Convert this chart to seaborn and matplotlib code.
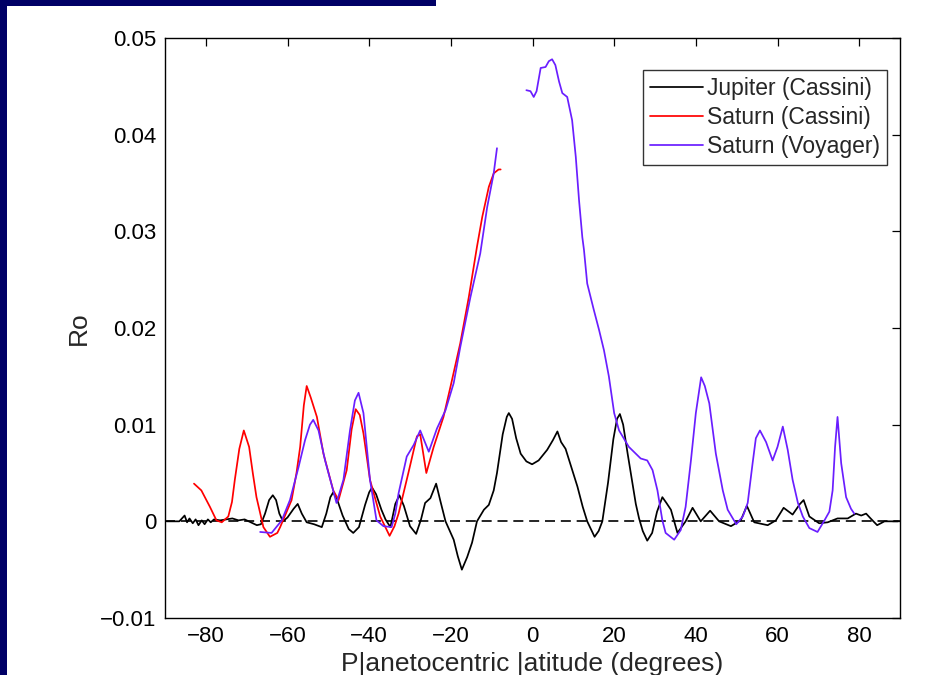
import numpy as np
import pandas as pd
import matplotlib
matplotlib.use("Agg")
import matplotlib.pyplot as plt
from matplotlib.patches import Rectangle
import seaborn as sns

# ---------------- data ----------------
jup_lat = [-89.6, -86.5, -85.2, -84.6, -84.0, -83.2, -82.5, -81.8, -81.0, -80.3, -79.5, -78.8,
           -78.0, -76.5, -75.0, -73.5, -72.0, -70.5, -69.0, -67.5, -66.5, -65.5, -64.5, -63.6,
           -62.8, -62.0, -61.1, -60.0, -58.5, -57.5, -56.5, -55.3, -53.5, -51.6, -50.5, -49.5,
           -48.8, -47.8, -46.5, -45.0, -43.9, -42.5, -41.0, -40.0, -39.3, -38.3, -37.0, -36.0,
           -34.8, -33.6, -32.6, -31.5, -30.0, -28.5, -27.3, -26.3, -25.0, -23.6, -22.5, -21.3,
           -19.3, -18.3, -17.3, -16.0, -14.8, -13.6, -11.9, -10.7, -9.5, -8.7, -7.3, -6.3,
           -5.8, -5.0, -4.0, -2.9, -1.5, -0.1, 1.5, 3.6, 5.0, 6.1, 7.0, 8.1,
           9.5, 11.0, 12.3, 13.4, 15.2, 16.2, 17.1, 18.5, 19.8, 20.7, 21.4, 22.2,
           23.3, 24.5, 25.3, 26.1, 27.0, 28.1, 29.3, 30.5, 31.8, 32.8, 33.9, 35.5,
           37.5, 39.2, 41.2, 43.5, 45.7, 48.6, 51.0, 52.5, 54.3, 57.6, 59.6, 61.5,
           63.7, 65.5, 66.4, 67.8, 70.2, 72.3, 74.7, 77.2, 79.2, 80.5, 81.7, 82.8,
           84.4, 86.2, 89.5]
jup_ro = [0.0000, 0.0000, 0.0006, -0.0001, 0.0003, -0.0002, 0.0002, -0.0004, 0.0001, -0.0003, 0.0002, -0.0001,
          0.0002, 0.0001, 0.0002, 0.0003, 0.0001, 0.0002, -0.0001, -0.0004, -0.0003, 0.0008, 0.0022, 0.0027,
          0.0022, 0.0008, 0.0000, 0.0004, 0.0013, 0.0018, 0.0008, -0.0001, -0.0003, -0.0006, 0.0008, 0.0025,
          0.0030, 0.0022, 0.0006, -0.0008, -0.0012, -0.0006, 0.0017, 0.0030, 0.0035, 0.0028, 0.0012, 0.0002,
          -0.0006, 0.0018, 0.0027, 0.0016, -0.0005, -0.0013, 0.0002, 0.0019, 0.0024, 0.0039, 0.0020, 0.0000,
          -0.0019, -0.0036, -0.0050, -0.0037, -0.0022, 0.0000, 0.0012, 0.0017, 0.0032, 0.0050, 0.0090, 0.0108,
          0.0112, 0.0106, 0.0086, 0.0070, 0.0062, 0.0059, 0.0063, 0.0074, 0.0084, 0.0093, 0.0082, 0.0075,
          0.0056, 0.0036, 0.0015, 0.0000, -0.0016, -0.0010, 0.0000, 0.0040, 0.0085, 0.0106, 0.0111, 0.0100,
          0.0070, 0.0039, 0.0018, 0.0003, -0.0010, -0.0020, -0.0012, 0.0010, 0.0025, 0.0019, 0.0012, -0.0012,
          0.0000, 0.0014, 0.0000, 0.0011, 0.0000, -0.0005, 0.0001, 0.0016, -0.0001, -0.0004, 0.0001, 0.0014,
          0.0007, 0.0018, 0.0022, 0.0005, -0.0002, -0.0001, 0.0003, 0.0003, 0.0008, 0.0006, 0.0008, 0.0003,
          -0.0004, 0.0000, 0.0000]

satc_lat = [-82.9, -81.1, -79.0, -77.4, -76.1, -74.5, -73.6, -72.9, -71.8, -70.7, -69.4, -68.5,
            -67.6, -65.9, -64.3, -62.5, -61.8, -59.0, -57.8, -56.9, -56.0, -55.3, -54.3, -52.8,
            -51.2, -48.8, -47.5, -45.5, -44.3, -43.3, -42.3, -41.4, -39.8, -37.3, -35.0, -33.8,
            -32.8, -30.4, -28.3, -27.5, -26.0, -24.2, -21.8, -20.1, -17.7, -15.6, -13.6, -12.3,
            -10.7, -9.5, -8.3, -7.8]
satc_ro = [0.0039, 0.0032, 0.0015, 0.0001, -0.0001, 0.0005, 0.0020, 0.0043, 0.0075, 0.0094, 0.0077, 0.0050,
           0.0025, -0.0006, -0.0016, -0.0012, -0.0006, 0.0022, 0.0050, 0.0077, 0.0120, 0.0140, 0.0128, 0.0108,
           0.0070, 0.0032, 0.0022, 0.0053, 0.0095, 0.0116, 0.0110, 0.0091, 0.0043, 0.0005, -0.0015, -0.0005,
           0.0008, 0.0050, 0.0088, 0.0090, 0.0050, 0.0077, 0.0108, 0.0139, 0.0184, 0.0232, 0.0284, 0.0315,
           0.0346, 0.0360, 0.0364, 0.0364]

satv_s_lat = [-66.7, -63.9, -61.4, -59.4, -57.3, -55.7, -54.5, -53.7, -52.4, -50.8, -49.2, -48.0,
              -46.3, -44.7, -43.5, -42.6, -41.4, -39.8, -38.2, -36.5, -34.5, -33.6, -32.8, -30.8,
              -29.1, -27.5, -25.4, -23.4, -21.3, -19.3, -17.7, -15.2, -12.8, -11.1, -9.5, -8.7]
satv_s_ro = [-0.0011, -0.0012, 0.0001, 0.0022, 0.0056, 0.0084, 0.0100, 0.0105, 0.0094, 0.0063, 0.0038, 0.0019,
             0.0043, 0.0094, 0.0125, 0.0133, 0.0112, 0.0043, 0.0001, -0.0005, -0.0006, 0.0008, 0.0029, 0.0067,
             0.0079, 0.0094, 0.0072, 0.0096, 0.0115, 0.0143, 0.0180, 0.0232, 0.0277, 0.0325, 0.0360, 0.0386]

satv_n_lat = [-1.5, -0.5, 0.3, 1.0, 2.0, 3.2, 4.0, 4.8, 5.6, 6.5, 7.3, 8.5,
              9.7, 10.6, 11.4, 12.2, 12.6, 13.4, 15.0, 16.3, 17.5, 18.7, 20.0, 21.2,
              23.6, 26.5, 28.1, 29.4, 30.6, 31.8, 32.6, 34.7, 36.3, 37.5, 38.8, 40.0,
              41.3, 42.2, 43.3, 44.9, 46.6, 47.8, 49.9, 51.5, 52.7, 53.9, 54.7, 55.7,
              57.2, 58.8, 60.0, 61.3, 62.5, 63.7, 65.0, 66.2, 67.8, 69.8, 71.5, 72.7,
              73.5, 74.1, 74.7, 75.6, 76.8, 78.0, 78.8]
satv_n_ro = [0.0446, 0.0445, 0.0439, 0.0445, 0.0469, 0.0470, 0.0476, 0.0478, 0.0472, 0.0455, 0.0443, 0.0439,
             0.0415, 0.0377, 0.0332, 0.0294, 0.0281, 0.0246, 0.0219, 0.0198, 0.0177, 0.0150, 0.0112, 0.0094,
             0.0077, 0.0065, 0.0063, 0.0053, 0.0032, 0.0001, -0.0012, -0.0019, -0.0009, 0.0015, 0.0063, 0.0112,
             0.0149, 0.0140, 0.0122, 0.0070, 0.0032, 0.0012, -0.0003, 0.0005, 0.0019, 0.0060, 0.0086, 0.0094,
             0.0082, 0.0063, 0.0077, 0.0098, 0.0074, 0.0043, 0.0019, 0.0005, -0.0007, -0.0011, 0.0001, 0.0010,
             0.0032, 0.0077, 0.0108, 0.0060, 0.0025, 0.0013, 0.0008]

series_names = ["Jupiter (Cassini)", "Saturn (Cassini)", "Saturn (Voyager)"]
xticks = [-80, -60, -40, -20, 0, 20, 40, 60, 80]
yticks = [-0.01, 0, 0.01, 0.02, 0.03, 0.04, 0.05]
ytick_labels = ["\u22120.01", "0", "0.01", "0.02", "0.03", "0.04", "0.05"]
xtick_labels = ["\u221280", "\u221260", "\u221240", "\u221220", "0", "20", "40", "60", "80"]

# ---------------- build frame ----------------
frames = [
    pd.DataFrame({"lat": jup_lat, "ro": jup_ro, "series": series_names[0], "seg": "j"}),
    pd.DataFrame({"lat": satc_lat, "ro": satc_ro, "series": series_names[1], "seg": "c"}),
    pd.DataFrame({"lat": satv_s_lat, "ro": satv_s_ro, "series": series_names[2], "seg": "vs"}),
    pd.DataFrame({"lat": satv_n_lat, "ro": satv_n_ro, "series": series_names[2], "seg": "vn"}),
]
df = pd.concat(frames, ignore_index=True)

sns.set_style("white")
plt.rcParams["font.family"] = ["Liberation Sans", "DejaVu Sans"]

fig = plt.figure(figsize=(9.38, 6.75), dpi=100)
fig.patch.set_facecolor("white")
ax = fig.add_axes([165 / 938, 1 - 618 / 675, (900 - 165) / 938, (618 - 38) / 675])

palette = {series_names[0]: "#000000", series_names[1]: "#ff0000", series_names[2]: "#6a1eff"}
ax.axhline(0, color="black", lw=1.2, ls=(0, (6, 3.5)), zorder=1)
sns.lineplot(data=df, x="lat", y="ro", hue="series", units="seg", estimator=None,
             sort=False, palette=palette, hue_order=series_names, lw=1.25, ax=ax, zorder=3)

ax.set_xlim(-90, 90)
ax.set_ylim(-0.01, 0.05)
ax.set_xticks(xticks)
ax.set_xticklabels(xtick_labels)
ax.set_yticks(yticks)
ax.set_yticklabels(ytick_labels)
ax.tick_params(direction="in", length=6, width=0.9, top=True, right=True,
               labelsize=16, pad=6, colors="black")
for s in ax.spines.values():
    s.set_color("black")
    s.set_linewidth(1.0)
ax.set_xlabel("P|anetocentric |atitude (degrees)", fontsize=19, labelpad=3.5)
ax.set_ylabel("Ro", fontsize=19, labelpad=7)

leg = ax.legend(loc="upper right", bbox_to_anchor=((887 - 165) / 735, (618 - 70) / 580),
                fontsize=16.5, frameon=True, fancybox=False,
                handlelength=2.3, handletextpad=0.2, borderpad=0.3, labelspacing=0.26,
                borderaxespad=0.0)
leg.get_frame().set_edgecolor("black")
leg.get_frame().set_linewidth(1.0)

# slide frame
fig.patches.append(Rectangle((0, 0), 7 / 938, 1, transform=fig.transFigure,
                             facecolor="#000066", edgecolor="none", zorder=0))
fig.patches.append(Rectangle((0, 1 - 6 / 675), 436 / 938, 6 / 675, transform=fig.transFigure,
                             facecolor="#000066", edgecolor="none", zorder=0))

fig.savefig("out.png", dpi=100)
